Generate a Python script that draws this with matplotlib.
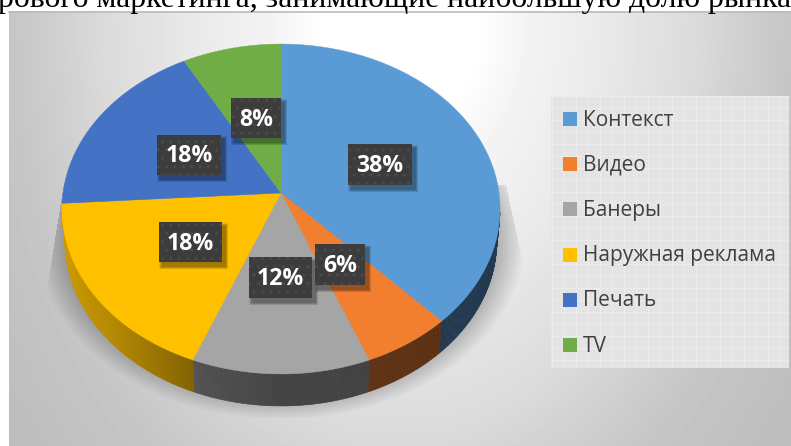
import numpy as np
import matplotlib
matplotlib.use("Agg")
import matplotlib.pyplot as plt
from matplotlib.patches import Rectangle
from matplotlib.collections import PolyCollection

categories = ["Контекст", "Видео", "Банеры", "Наружная реклама", "Печать", "TV"]
values = [38, 6, 12, 18, 18, 8]
colors = ["#5B9BD5", "#F27E30", "#A5A5A5", "#FFC000", "#4472C4", "#70AD47"]
heading = "рового маркетинга, занимающие наибольшую долю рынка"
label_boxes = [(348, 144, 64, 41), (315, 244, 50, 41), (249, 257, 63, 41),
               (159, 222, 63, 40), (157, 135, 64, 40), (231, 98, 50, 40)]

W, H = 791, 446
fig = plt.figure(figsize=(W / 100, H / 100), dpi=100, facecolor="white")
ax = fig.add_axes([0, 0, 1, 1])
ax.set_xlim(0, W)
ax.set_ylim(H, 0)
ax.axis("off")

# Perspective projection of the pie disc
CX, CY, A, P, R = 281.0, 193.0, 218.0, 163.4, -0.097
DEPTH, SHRINK = 32.0, 0.985


def project(theta, rad=1.0):
    x, y = rad * np.sin(theta), -rad * np.cos(theta)
    d = 1 + R * y
    return CX + A * x / d, CY + P * y / d


# Background gradient
yy, xx = np.mgrid[11:H, 9:W] + 0.5
r = np.hypot(xx - 400, (yy - 12) * 0.7)
grey = np.interp(r, [0, 80, 130, 200, 300, 340, 390, 470, 530],
                 [255, 255, 243, 234, 218, 208, 198, 190, 188])

# Soft shadow under the pie
d = np.hypot((xx - 281) / 245, (yy - 238) / 182)
shade = 0.34 * np.clip((1 - d) / 0.16, 0, 1)
cone = (xx > 46 + (295 - yy) * 17 / 105) & (xx < 530 - (295 - yy) * 24 / 110)
shade = np.where((yy < 185) | (yy > 418), 0, shade)
shade = np.where((yy < 295) & ~cone, 0, shade)
grey = grey * (1 - shade)
ax.imshow(grey, cmap="gray", vmin=0, vmax=255, extent=(9, W, H, 11), aspect="auto",
          interpolation="bilinear", zorder=0)
ax.set_xlim(0, W)
ax.set_ylim(H, 0)
ax.plot([9, W], [11.5, 11.5], color="#BBBBBB", lw=1.2, zorder=1)

# Legend panel with its woven texture
lx0, ly0, lx1, ly1 = 551, 96, 789, 368
ly, lx = np.mgrid[ly0:ly1, lx0:lx1]
tex = 226 + 4 * ((lx // 2 + ly // 2) % 2) + 8 * ((lx % 12 == 0) | (ly % 12 == 0))
ax.imshow(tex, cmap="gray", vmin=0, vmax=255, extent=(lx0, lx1, ly1, ly0), aspect="auto",
          interpolation="bilinear", zorder=1)
ax.set_xlim(0, W)
ax.set_ylim(H, 0)

# Pie, from the values
fracs = np.array(values, dtype=float) / sum(values)
edges = np.concatenate([[0], np.cumsum(fracs)]) * 2 * np.pi


def side_shade(x):
    return np.interp(x, [61, 110, 190, 200, 280, 370, 440, 500],
                     [0.80, 0.72, 0.52, 0.49, 0.41, 0.40, 0.37, 0.37])


for i, c in enumerate(colors):
    th = np.linspace(edges[i], edges[i + 1], max(4, int((edges[i + 1] - edges[i]) * 120)))
    X, Y = project(th)
    Xb = CX + (X - CX) * SHRINK
    Yb = Y + DEPTH
    base = np.array(matplotlib.colors.to_rgb(c))
    polys, cols = [], []
    for k in range(len(th) - 1):
        if Y[k] < 212 and Y[k + 1] < 212:
            continue
        polys.append([(X[k], Y[k]), (X[k + 1], Y[k + 1]), (Xb[k + 1], Yb[k + 1]), (Xb[k], Yb[k])])
        cols.append(base * side_shade((X[k] + X[k + 1]) / 2))
    if polys:
        ax.add_collection(PolyCollection(polys, facecolors=cols, edgecolors=cols, linewidths=0.4, zorder=2))

for i, c in enumerate(colors):
    th = np.linspace(edges[i], edges[i + 1], 200)
    X, Y = project(th)
    ax.fill(np.r_[CX, X], np.r_[CY, Y], facecolor=c, edgecolor=c, lw=0.3, zorder=3)

# Data labels
for (x, y, w, h), v in zip(label_boxes, values):
    for k in range(6, 0, -1):
        ax.add_patch(Rectangle((x + 3 - k / 2, y + 4 - k / 2), w + k, h + k, facecolor="black",
                               alpha=0.07, lw=0, zorder=4))
    ax.add_patch(Rectangle((x, y), w, h, facecolor="#3C3C3C", edgecolor="#4A4A4A", hatch="..",
                           lw=0, zorder=5))
    ax.text(x + w / 2, y + h / 2 + 1.5, f"{v}%", color="white", fontsize=16.7, fontweight="bold",
            family="Open Sans", ha="center", va="center", zorder=6)

# Legend
for i, (name, c) in enumerate(zip(categories, colors)):
    yc = 119 + i * 45.2
    ax.add_patch(Rectangle((563, yc - 7), 14, 14, facecolor=c, lw=0, zorder=3))
    ax.text(583, yc + 1, name, color="#404040", fontsize=15, family="Open Sans", ha="left",
            va="center", zorder=3)

# Clipped body text above the chart
ax.text(-2, 6.5, heading, color="black", fontsize=22.8, family="Liberation Serif", ha="left",
        va="baseline", zorder=3, clip_on=True)

fig.savefig("out.png", dpi=100)
